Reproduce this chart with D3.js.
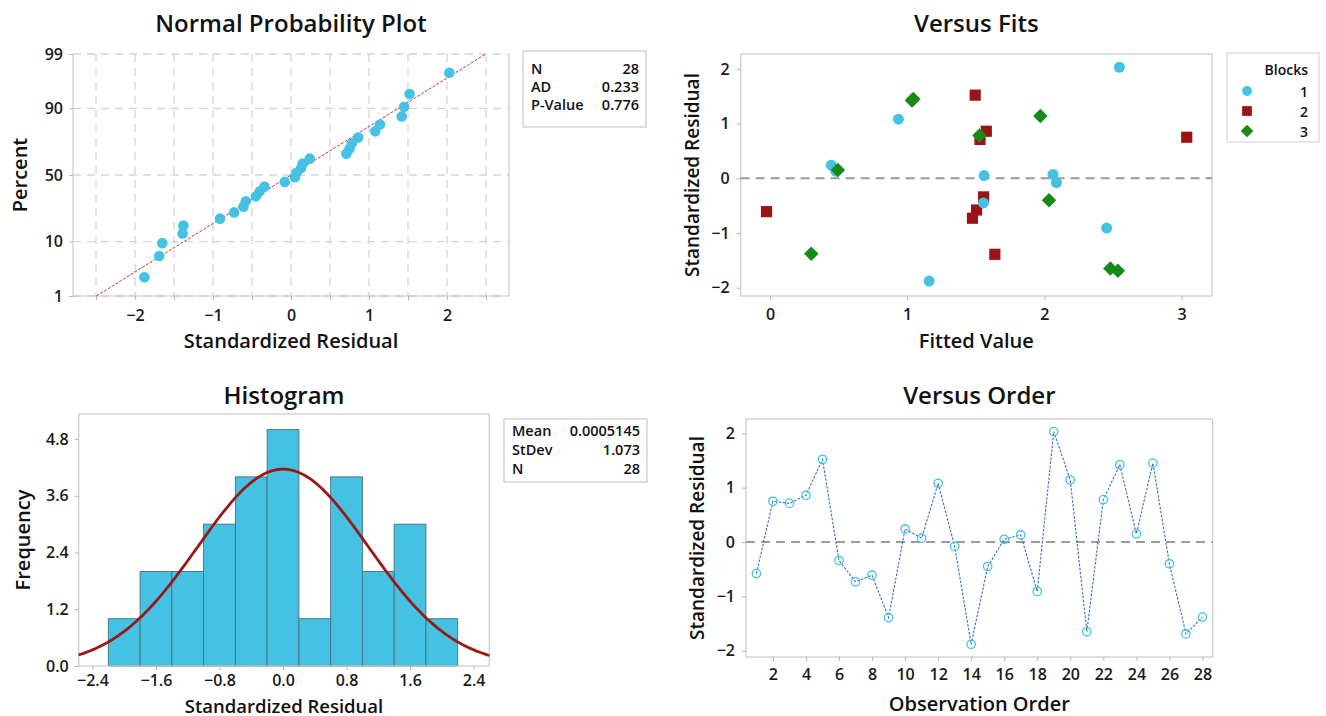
<!DOCTYPE html>
<html>
<head>
<meta charset="utf-8">
<script src="https://cdn.jsdelivr.net/npm/d3@7"></script>
<style>
  html, body { margin: 0; padding: 0; background: #ffffff; }
  svg { display: block; font-family: "Open Sans", "Noto Sans", sans-serif; }
  .tick text { font-family: "Open Sans", sans-serif; font-weight: 600; fill: #1a1a1a; }
</style>
</head>
<body>
<svg id="chart" width="1326" height="716"></svg>
<script>
// ---------------- DATA ----------------
const observationOrder = [1,2,3,4,5,6,7,8,9,10,11,12,13,14,15,16,17,18,19,20,21,22,23,24,25,26,27,28];
const residuals = [-0.58,0.75,0.71,0.86,1.52,-0.34,-0.73,-0.61,-1.39,0.24,0.07,1.08,-0.08,-1.88,-0.45,0.05,0.13,-0.91,2.03,1.14,-1.65,0.78,1.42,0.15,1.45,-0.40,-1.69,-1.38];
const fittedValues = [1.506,3.038,1.531,1.577,1.496,1.557,1.476,-0.025,1.639,0.447,2.063,0.936,2.088,1.160,1.556,1.561,0.480,2.454,2.547,1.971,2.481,1.527,1.035,0.495,1.045,2.034,2.536,0.301];
const blocks = [2,2,2,2,2,2,2,2,2,1,1,1,1,1,1,1,1,1,1,3,3,3,3,3,3,3,3,3];
const blockLabels = ["1","2","3"];

const nppStatLabels = ["N","AD","P-Value"];
const nppStatValues = ["28","0.233","0.776"];
const histStatLabels = ["Mean","StDev","N"];
const histStatValues = ["0.0005145","1.073","28"];
const fitMean = 0.0005145;
const fitStDev = 1.073;

const percentTicks = [1,10,50,90,99];
const nppXTicks = [-2,-1,0,1,2];
const nppXGrid = [-2.5,-2,-1.5,-1,-0.5,0,0.5,1,1.5,2,2.5];
const fitsXTicks = [0,1,2,3];
const residTicks = [-2,-1,0,1,2];
const histEdges = [-2.2,-1.8,-1.4,-1.0,-0.6,-0.2,0.2,0.6,1.0,1.4,1.8,2.2];
const histXTicks = [-2.4,-1.6,-0.8,0.0,0.8,1.6,2.4];
const histYTicks = [0.0,1.2,2.4,3.6,4.8];
const orderTicks = [2,4,6,8,10,12,14,16,18,20,22,24,26,28];

// ---------------- STYLE ----------------
const CYAN = "#45c1e3";
const DRED = "#9b1414";
const GREEN = "#178a17";
const FRAME = "#c9c9c9";
const FONT = "'Open Sans', 'Noto Sans', sans-serif";

// inverse standard normal CDF (Acklam)
function qnorm(p){
  const a=[-3.969683028665376e+01,2.209460984245205e+02,-2.759285104469687e+02,1.383577518672690e+02,-3.066479806614716e+01,2.506628277459239e+00];
  const b=[-5.447609879822406e+01,1.615858368580409e+02,-1.556989798598866e+02,6.680131188771972e+01,-1.328068155288572e+01];
  const c=[-7.784894002430293e-03,-3.223964580411365e-01,-2.400758277161838e+00,-2.549732539343734e+00,4.374664141464968e+00,2.938163982698783e+00];
  const d=[7.784695709041462e-03,3.224671290700398e-01,2.445134137142996e+00,3.754408661907416e+00];
  const pl=0.02425, ph=1-pl; let q,r;
  if(p<pl){q=Math.sqrt(-2*Math.log(p));return (((((c[0]*q+c[1])*q+c[2])*q+c[3])*q+c[4])*q+c[5])/((((d[0]*q+d[1])*q+d[2])*q+d[3])*q+1);}
  if(p<=ph){q=p-0.5;r=q*q;return (((((a[0]*r+a[1])*r+a[2])*r+a[3])*r+a[4])*r+a[5])*q/(((((b[0]*r+b[1])*r+b[2])*r+b[3])*r+b[4])*r+1);}
  q=Math.sqrt(-2*Math.log(1-p));return -(((((c[0]*q+c[1])*q+c[2])*q+c[3])*q+c[4])*q+c[5])/((((d[0]*q+d[1])*q+d[2])*q+d[3])*q+1);
}
function dnorm(x,m,s){ return Math.exp(-0.5*((x-m)/s)**2)/(s*Math.sqrt(2*Math.PI)); }

const svg = d3.select("#chart");

function frame(g, x0, y0, x1, y1){
  g.append("rect").attr("x",x0).attr("y",y0).attr("width",x1-x0).attr("height",y1-y0)
    .attr("fill","none").attr("stroke",FRAME).attr("stroke-width",1.2);
}
function styleAxis(sel, size){
  sel.select(".domain").remove();
  sel.selectAll(".tick line").attr("stroke","#b5b5b5").attr("stroke-width",1);
  sel.selectAll(".tick text").attr("font-size",size).attr("font-weight",600).attr("fill","#1a1a1a");
}
function title(txt, x, y, size){
  svg.append("text").attr("x",x).attr("y",y).attr("text-anchor","middle").attr("dominant-baseline","central")
    .attr("font-family",FONT).attr("font-weight",600).attr("font-size",size).attr("fill","#111").text(txt);
}
function yTitle(txt, x, y, size){
  svg.append("text").attr("transform",`translate(${x},${y}) rotate(-90)`).attr("text-anchor","middle")
    .attr("dominant-baseline","central").attr("font-family",FONT).attr("font-weight",600)
    .attr("font-size",size).attr("fill","#111").text(txt);
}
function statBox(x0,y0,x1,y1,labels,values,rowY){
  svg.append("rect").attr("x",x0).attr("y",y0).attr("width",x1-x0).attr("height",y1-y0)
    .attr("fill","#fff").attr("stroke","#bdbdbd").attr("stroke-width",1);
  labels.forEach((l,i)=>{
    svg.append("text").attr("x",x0+8).attr("y",rowY[i]).attr("dominant-baseline","central")
      .attr("font-family",FONT).attr("font-weight",600).attr("font-size",14.5).attr("fill","#111").text(l);
    svg.append("text").attr("x",x1-7).attr("y",rowY[i]).attr("dominant-baseline","central").attr("text-anchor","end")
      .attr("font-family",FONT).attr("font-weight",600).attr("font-size",14.5).attr("fill","#111").text(values[i]);
  });
}
function marker(b, s){
  if(b===1) return d3.symbol().type(d3.symbolCircle).size(s)();
  return d3.symbol().type(d3.symbolSquare).size(s)();
}
function markerRot(b){ return b===3 ? " rotate(45)" : ""; }

// ============ PANEL 1: Normal Probability Plot ============
(function(){
  const L=73,T=54,R=509,B=296;
  const x = d3.scaleLinear().domain([-2.795,2.795]).range([L,R]);
  const yz = d3.scaleLinear().domain([qnorm(0.01),qnorm(0.99)]).range([B,T]);
  const g = svg.append("g");
  g.selectAll("line.vg").data(nppXGrid).join("line").attr("class","vg")
    .attr("x1",d=>x(d)).attr("x2",d=>x(d)).attr("y1",T).attr("y2",B)
    .attr("stroke","#d4d4d4").attr("stroke-width",1.3).attr("stroke-dasharray","8,6");
  g.selectAll("line.hg").data(percentTicks).join("line").attr("class","hg")
    .attr("x1",L).attr("x2",R).attr("y1",d=>yz(qnorm(d/100))).attr("y2",d=>yz(qnorm(d/100)))
    .attr("stroke","#d4d4d4").attr("stroke-width",1.3).attr("stroke-dasharray","8,6");
  g.append("line").attr("x1",L).attr("x2",L).attr("y1",T).attr("y2",B).attr("stroke",FRAME).attr("stroke-width",1.2);
  g.append("line").attr("x1",R).attr("x2",R).attr("y1",T).attr("y2",B).attr("stroke",FRAME).attr("stroke-width",1.2);
  g.append("line").attr("x1",L).attr("x2",R).attr("y1",B).attr("y2",B).attr("stroke",FRAME).attr("stroke-width",1.2);
  const ax = g.append("g").attr("transform",`translate(0,${B})`)
    .call(d3.axisBottom(x).tickValues(nppXGrid).tickSize(4).tickPadding(10).tickFormat(d=>nppXTicks.includes(d)?d3.format("d")(d):""));
  styleAxis(ax,16);
  const ay = g.append("g").attr("transform",`translate(${L},0)`)
    .call(d3.axisLeft(yz).tickValues(percentTicks.map(p=>qnorm(p/100))).tickSize(4).tickPadding(6).tickFormat((d,i)=>percentTicks[i]));
  styleAxis(ay,16);
  const zLo = qnorm(0.01), zHi = qnorm(0.99);
  g.append("line").attr("x1",x(fitMean+fitStDev*zLo)).attr("y1",yz(zLo))
    .attr("x2",x(fitMean+fitStDev*zHi)).attr("y2",yz(zHi))
    .attr("stroke","#c0392b").attr("stroke-width",1).attr("stroke-dasharray","3,1.5");
  const sorted = residuals.slice().sort((a,b)=>a-b);
  const n = sorted.length;
  g.selectAll("circle.pt").data(sorted).join("circle").attr("class","pt")
    .attr("cx",d=>x(d)).attr("cy",(d,i)=>yz(qnorm((i+1-0.3)/(n+0.4))))
    .attr("r",5.3).attr("fill",CYAN);
  title("Normal Probability Plot",(L+R)/2,22,24);
  title("Standardized Residual",(L+R)/2,340,20);
  yTitle("Percent",19,(T+B)/2,20);
  statBox(523,51,646,127,nppStatLabels,nppStatValues,[68,86,104]);
})();

// ============ PANEL 2: Versus Fits ============
(function(){
  const L=740.6,T=54,R=1212,B=296;
  const x = d3.scaleLinear().domain([-0.214,3.222]).range([L,R]);
  const y = d3.scaleLinear().domain([-2.152,2.272]).range([B,T]);
  const g = svg.append("g");
  frame(g,L,T,R,B);
  const ax = g.append("g").attr("transform",`translate(0,${B})`)
    .call(d3.axisBottom(x).tickValues(fitsXTicks).tickSize(4).tickPadding(9).tickFormat(d3.format("d")));
  styleAxis(ax,16);
  const ay = g.append("g").attr("transform",`translate(${L},0)`)
    .call(d3.axisLeft(y).tickValues(residTicks).tickSize(4).tickPadding(7).tickFormat(d3.format("d")));
  styleAxis(ay,16);
  g.append("line").attr("x1",L).attr("x2",R).attr("y1",y(0)).attr("y2",y(0))
    .attr("stroke","#9a9a9a").attr("stroke-width",2).attr("stroke-dasharray","9,6");
  const sizes = {1:95,2:125,3:105};
  const colors = {1:CYAN,2:DRED,3:GREEN};
  const pts = observationOrder.map((o,i)=>({f:fittedValues[i],r:residuals[i],b:blocks[i]}));
  g.selectAll("path.pt").data(pts).join("path").attr("class","pt")
    .attr("transform",d=>`translate(${x(d.f)},${y(d.r)})${markerRot(d.b)}`)
    .attr("d",d=>marker(d.b,sizes[d.b]))
    .attr("fill",d=>colors[d.b]);
  title("Versus Fits",(L+R)/2,22,24);
  title("Fitted Value",(L+R)/2,340,20);
  yTitle("Standardized Residual",692,(T+B)/2,19);
  svg.append("rect").attr("x",1227).attr("y",53).attr("width",92).attr("height",89)
    .attr("fill","#fff").attr("stroke","#cfcfcf").attr("stroke-width",1);
  svg.append("text").attr("x",1308).attr("y",69).attr("text-anchor","end").attr("dominant-baseline","central")
    .attr("font-family",FONT).attr("font-weight",600).attr("font-size",14).attr("fill","#111").text("Blocks");
  const legSizes = {1:75,2:95,3:80};
  blockLabels.forEach((lab,i)=>{
    const b=i+1, yy=91+i*20;
    svg.append("path").attr("transform",`translate(1247,${yy})${markerRot(b)}`)
      .attr("d",marker(b,legSizes[b])).attr("fill",colors[b]);
    svg.append("text").attr("x",1308).attr("y",yy).attr("text-anchor","end").attr("dominant-baseline","central")
      .attr("font-family",FONT).attr("font-weight",600).attr("font-size",14).attr("fill","#111").text(lab);
  });
})();

// ============ PANEL 3: Histogram ============
(function(){
  const L=78.7,T=414,R=489.3,B=666;
  const x = d3.scaleLinear().domain([-2.573,2.598]).range([L,R]);
  const y = d3.scaleLinear().domain([0,5.33]).range([B,T]);
  const g = svg.append("g");
  const bins = d3.bin().domain([histEdges[0],histEdges[histEdges.length-1]]).thresholds(histEdges.slice(1,-1))(residuals);
  g.selectAll("rect.bar").data(bins).join("rect").attr("class","bar")
    .attr("x",d=>x(d.x0)).attr("width",d=>x(d.x1)-x(d.x0))
    .attr("y",d=>y(d.length)).attr("height",d=>y(0)-y(d.length))
    .attr("fill",CYAN).attr("stroke","#48707c").attr("stroke-width",0.9);
  frame(g,L,T,R,B);
  const ax = g.append("g").attr("transform",`translate(0,${B})`)
    .call(d3.axisBottom(x).tickValues(histXTicks).tickSize(4).tickPadding(5).tickFormat(d3.format(".1f")));
  styleAxis(ax,16);
  const ay = g.append("g").attr("transform",`translate(${L},0)`)
    .call(d3.axisLeft(y).tickValues(histYTicks).tickSize(4).tickPadding(6).tickFormat(d3.format(".1f")));
  styleAxis(ay,16);
  const binW = histEdges[1]-histEdges[0];
  const n = residuals.length;
  const xs = d3.range(0,201).map(i=>x.domain()[0]+(x.domain()[1]-x.domain()[0])*i/200);
  g.append("path").datum(xs)
    .attr("d",d3.line().x(d=>x(d)).y(d=>y(n*binW*dnorm(d,fitMean,fitStDev))))
    .attr("fill","none").attr("stroke","#9b1717").attr("stroke-width",2.8);
  title("Histogram",(L+R)/2,394,24);
  title("Standardized Residual",(L+R)/2,705,18.5);
  yTitle("Frequency",22,(T+B)/2,20);
  statBox(504,419,647,482,histStatLabels,histStatValues,[430,449,468]);
})();

// ============ PANEL 4: Versus Order ============
(function(){
  const L=746,T=419,R=1212.7,B=657;
  const x = d3.scaleLinear().domain([0.37,28.62]).range([L,R]);
  const y = d3.scaleLinear().domain([-2.114,2.262]).range([B,T]);
  const g = svg.append("g");
  frame(g,L,T,R,B);
  const ax = g.append("g").attr("transform",`translate(0,${B})`)
    .call(d3.axisBottom(x).tickValues(orderTicks).tickSize(4).tickPadding(8).tickFormat(d3.format("d")));
  styleAxis(ax,16);
  const ay = g.append("g").attr("transform",`translate(${L},0)`)
    .call(d3.axisLeft(y).tickValues(residTicks).tickSize(4).tickPadding(7).tickFormat(d3.format("d")));
  styleAxis(ay,16);
  g.append("line").attr("x1",L).attr("x2",R).attr("y1",y(0)).attr("y2",y(0))
    .attr("stroke","#9a9a9a").attr("stroke-width",2).attr("stroke-dasharray","9,6");
  const pts = observationOrder.map((o,i)=>({o:o,r:residuals[i]}));
  g.append("path").datum(pts).attr("d",d3.line().x(d=>x(d.o)).y(d=>y(d.r)))
    .attr("fill","none").attr("stroke","#2f6fbf").attr("stroke-width",1.1).attr("stroke-dasharray","2.5,1.5");
  g.selectAll("circle.pt").data(pts).join("circle").attr("class","pt")
    .attr("cx",d=>x(d.o)).attr("cy",d=>y(d.r)).attr("r",4.2)
    .attr("fill","none").attr("stroke",CYAN).attr("stroke-width",1.3);
  title("Versus Order",(L+R)/2,394,24);
  title("Observation Order",(L+R)/2,703,20);
  yTitle("Standardized Residual",697,(T+B)/2,19);
})();
</script>
</body>
</html>
